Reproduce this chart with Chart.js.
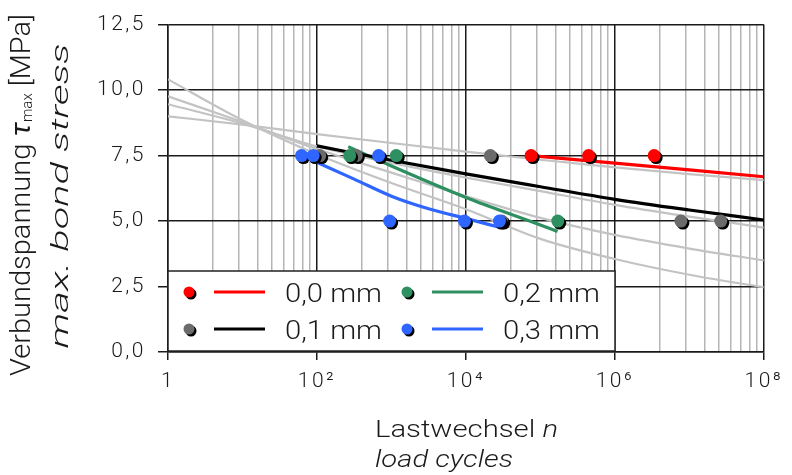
<!DOCTYPE html>
<html>
<head>
<meta charset="utf-8">
<script src="https://cdn.jsdelivr.net/npm/chart.js@4/dist/chart.umd.min.js"></script>
<style>
  html, body { margin: 0; padding: 0; background: #fff; }
  #wrap { width: 792px; height: 475px; }
</style>
</head>
<body>
<div id="wrap"><canvas id="chart" width="792" height="475"></canvas></div>
<script>
// measured points: load cycles n / max. bond stress [MPa]
const cycles00 = [75000, 444000, 3370000];
const stress00 = [7.5, 7.5, 7.5];
const cycles01 = [109, 337, 21300, 30300, 7700000, 26400000];
const stress01 = [7.5, 7.5, 7.5, 5.0, 5.0, 5.0];
const cycles02 = [275, 1160, 171000];
const stress02 = [7.5, 7.5, 5.0];
const cycles03 = [62, 89, 673, 946, 9550, 28200];
const stress03 = [7.5, 7.5, 7.5, 5.0, 5.0, 5.0];

// fitted curves
const fitN00 = [75000, 1e6, 1e7, 1e8];
const fitT00 = [7.50, 7.21, 6.95, 6.69];
const fitN01 = [100, 1e3, 1e4, 1e5, 1e6, 1e7, 1e8];
const fitT01 = [7.87, 7.32, 6.80, 6.31, 5.83, 5.42, 5.04];
const fitN02 = [263, 1e3, 1e4, 1e5, 170000];
const fitT02 = [7.84, 7.10, 5.90, 4.85, 4.60];
const fitN03 = [98, 316, 1e3, 3160, 1e4, 28200];
const fitT03 = [7.25, 6.60, 5.95, 5.47, 5.10, 4.76];

// grey reference curves
const refN = [1, 10, 100, 1e3, 1e4, 1e5, 1e6, 1e7, 1e8];
const refT1 = [9.00, 8.68, 8.32, 7.98, 7.65, 7.34, 7.05, 6.79, 6.56];
const refT2 = [9.46, 8.72, 7.85, 7.22, 6.66, 6.14, 5.62, 5.17, 4.75];
const refT3 = [9.76, 8.78, 7.75, 6.85, 5.95, 5.12, 4.47, 3.95, 3.50];
const refT4 = [10.41, 8.85, 7.55, 6.45, 5.45, 4.32, 3.55, 2.95, 2.47];

const seriesNames = ['0,0 mm', '0,1 mm', '0,2 mm', '0,3 mm'];
const pointColors = ['#ff0000', '#6b6b6b', '#2e9060', '#2f66ff'];
const lineColors = ['#ff0000', '#000000', '#2e9060', '#2f66ff'];

const yTickLabels = ['0,0', '2,5', '5,0', '7,5', '10,0', '12,5'];
const xMajor = [1, 1e2, 1e4, 1e6, 1e8];
const xMajorLabels = ['1', '10²', '10⁴', '10⁶', '10⁸'];
const xMinorSteps = [4, 9, 16, 25, 36, 49, 64, 81];

const FONT = 'Roboto';
const INK = '#1a1a1a';

function pairs(xs, ys) {
  return xs.map((x, i) => ({ x: x, y: ys[i] }));
}

function isMajor(v) {
  return xMajor.some(m => Math.abs(m - v) / m < 1e-9);
}

// grid positions along the log axis
const xGridValues = [];
xMajor.forEach((m, i) => {
  xGridValues.push(m);
  if (i < xMajor.length - 1) xMinorSteps.forEach(s => xGridValues.push(m * s));
});

function lineSet(xs, ys, color, width, order) {
  return {
    data: pairs(xs, ys),
    showLine: true,
    borderColor: color,
    borderWidth: width,
    pointRadius: 0,
    cubicInterpolationMode: 'monotone',
    order: order
  };
}

function pointSet(xs, ys, color, order) {
  return {
    data: pairs(xs, ys),
    showLine: false,
    backgroundColor: color,
    borderWidth: 0,
    pointRadius: 6.5,
    shadow: true,
    order: order
  };
}

const datasets = [
  lineSet(refN, refT1, '#c3c3c3', 2.2, 20),
  lineSet(refN, refT2, '#c3c3c3', 2.2, 20),
  lineSet(refN, refT3, '#c3c3c3', 2.2, 20),
  lineSet(refN, refT4, '#c3c3c3', 2.2, 20),
  lineSet(fitN00, fitT00, lineColors[0], 3.2, 10),
  lineSet(fitN01, fitT01, lineColors[1], 3.2, 10),
  lineSet(fitN02, fitT02, lineColors[2], 3.2, 10),
  lineSet(fitN03, fitT03, lineColors[3], 3.2, 10),
  pointSet(cycles01, stress01, pointColors[1], 5),
  pointSet(cycles00, stress00, pointColors[0], 4),
  pointSet(cycles02, stress02, pointColors[2], 3),
  pointSet(cycles03, stress03, pointColors[3], 2)
];

// the original tick lettering is set quite wide
const spacingPlugin = {
  id: 'wideText',
  beforeUpdate(chart) { chart.ctx.letterSpacing = '2.5px'; },
  beforeDraw(chart) { chart.ctx.letterSpacing = '2.5px'; }
};

// little dark shadow under the markers
const shadowPlugin = {
  id: 'pointShadow',
  beforeDatasetDraw(chart, args) {
    if (!chart.data.datasets[args.index].shadow) return;
    const ctx = chart.ctx;
    ctx.save();
    ctx.shadowColor = '#000';
    ctx.shadowOffsetX = 2;
    ctx.shadowOffsetY = 2;
    ctx.shadowBlur = 0;
  },
  afterDatasetDraw(chart, args) {
    if (chart.data.datasets[args.index].shadow) chart.ctx.restore();
  }
};

// draws mixed-style text stretched to a given width (the original face is wider than Roboto)
function drawRuns(ctx, runs, x, y, width, align) {
  ctx.letterSpacing = '0px';
  let natural = 0;
  runs.forEach(r => { ctx.font = r.font; natural += ctx.measureText(r.text).width; });
  ctx.save();
  ctx.translate(align === 'center' ? x - width / 2 : x, y);
  ctx.scale(width / natural, 1);
  let cx = 0;
  runs.forEach(r => {
    ctx.font = r.font;
    ctx.fillText(r.text, cx, r.dy || 0);
    cx += ctx.measureText(r.text).width;
  });
  ctx.restore();
}

const titlePlugin = {
  id: 'axisTitles',
  afterDraw(chart) {
    const ctx = chart.ctx;
    ctx.save();
    ctx.fillStyle = INK;
    ctx.textBaseline = 'alphabetic';
    ctx.textAlign = 'left';
    // x title
    drawRuns(ctx, [
      { text: 'Lastwechsel ', font: `300 24px ${FONT}` },
      { text: 'n', font: `italic 300 24px ${FONT}` }
    ], 375, 437, 183, 'left');
    drawRuns(ctx, [{ text: 'load cycles', font: `italic 300 24px ${FONT}` }], 375, 467, 138, 'left');
    // y title (rotated)
    ctx.save();
    ctx.translate(30, 195);
    ctx.rotate(-Math.PI / 2);
    drawRuns(ctx, [
      { text: 'Verbundspannung ', font: `300 27px ${FONT}` },
      { text: 'τ', font: `italic 400 27px ${FONT}` },
      { text: 'max', font: `300 14px ${FONT}`, dy: 2 },
      { text: ' [MPa]', font: `300 27px ${FONT}` }
    ], 0, 0, 362, 'center');
    ctx.restore();
    ctx.save();
    ctx.translate(68, 196);
    ctx.rotate(-Math.PI / 2);
    drawRuns(ctx, [{ text: 'max. bond stress', font: `italic 300 24px ${FONT}` }], 0, 0, 305, 'center');
    ctx.restore();
    ctx.restore();
  }
};

// legend box in the lower left corner of the plot
const legendPlugin = {
  id: 'boxLegend',
  afterDraw(chart) {
    const ctx = chart.ctx;
    const area = chart.chartArea;
    const box = { x: area.left, y: 271, w: 447, h: 80 };
    ctx.save();
    ctx.fillStyle = '#fff';
    ctx.fillRect(box.x, box.y, box.w, box.h);
    ctx.strokeStyle = '#222';
    ctx.lineWidth = 1.5;
    ctx.strokeRect(box.x, box.y, box.w, box.h);

    const colX = [box.x + 21, box.x + 239];
    const rowY = [292, 329];
    seriesNames.forEach((name, i) => {
      const cx = colX[Math.floor(i / 2)];
      const cy = rowY[i % 2];
      ctx.save();
      ctx.shadowColor = '#000';
      ctx.shadowOffsetX = 2;
      ctx.shadowOffsetY = 2;
      ctx.fillStyle = pointColors[i];
      ctx.beginPath();
      ctx.arc(cx, cy, 5.5, 0, Math.PI * 2);
      ctx.fill();
      ctx.restore();
      ctx.strokeStyle = lineColors[i];
      ctx.lineWidth = 3.2;
      ctx.beginPath();
      ctx.moveTo(cx + 25, cy);
      ctx.lineTo(cx + 76, cy);
      ctx.stroke();
      ctx.fillStyle = INK;
      ctx.textBaseline = 'alphabetic';
      ctx.textAlign = 'left';
      drawRuns(ctx, [{ text: name, font: `300 26px ${FONT}` }], cx + 96, cy + 10, 97, 'left');
    });
    ctx.restore();
  }
};

new Chart(document.getElementById('chart'), {
  type: 'scatter',
  data: { datasets: datasets },
  options: {
    responsive: false,
    animation: false,
    devicePixelRatio: 1,
    layout: { padding: { left: 0, right: 27, top: 19, bottom: 0 } },
    plugins: {
      legend: { display: false },
      tooltip: { enabled: false },
      title: { display: false }
    },
    scales: {
      x: {
        type: 'logarithmic',
        min: 1,
        max: 1e8,
        afterBuildTicks(scale) {
          scale.ticks = xGridValues.map(v => ({ value: v }));
        },
        afterFit(scale) { scale.height = 123; },
        border: { color: INK, width: 1.5 },
        grid: {
          color: c => isMajor(c.tick.value) ? INK : '#b5b5b5',
          lineWidth: 1.5,
          tickColor: c => isMajor(c.tick.value) ? INK : 'rgba(0,0,0,0)',
          tickLength: 8
        },
        ticks: {
          autoSkip: false,
          maxRotation: 0,
          minRotation: 0,
          padding: 9,
          color: INK,
          font: { family: FONT, size: 21, weight: '300' },
          callback: v => {
            const i = xMajor.findIndex(m => Math.abs(m - v) / m < 1e-9);
            return i >= 0 ? xMajorLabels[i] : '';
          }
        }
      },
      y: {
        min: 0,
        max: 12.5,
        afterFit(scale) { scale.width = 168; },
        border: { color: INK, width: 1.5 },
        grid: { color: INK, lineWidth: 1.5, tickLength: 10 },
        ticks: {
          stepSize: 2.5,
          padding: 12,
          color: INK,
          font: { family: FONT, size: 21, weight: '300' },
          callback: (v, i) => yTickLabels[i]
        }
      }
    }
  },
  plugins: [spacingPlugin, shadowPlugin, legendPlugin, titlePlugin]
});
</script>
</body>
</html>
